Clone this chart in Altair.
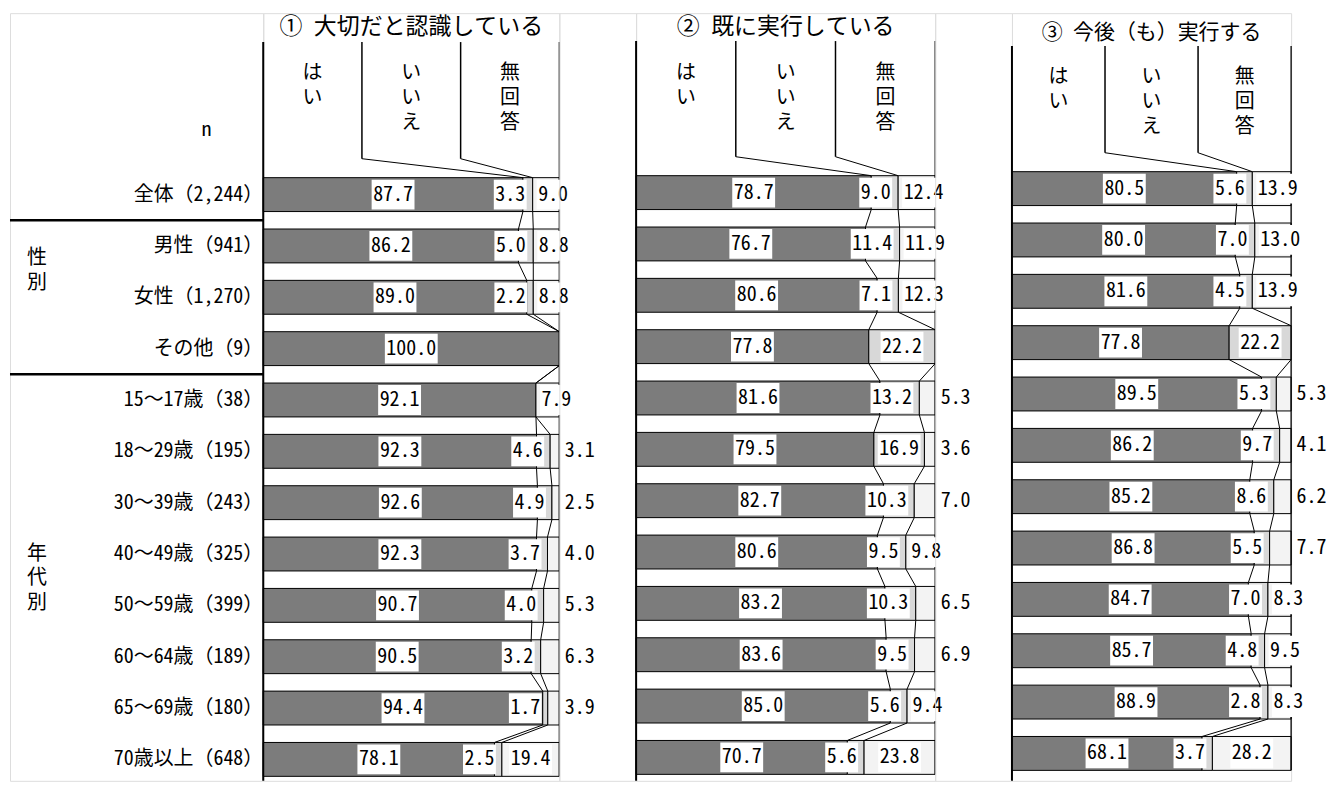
import altair as alt
import pandas as pd

# ---------------- data ----------------
row_labels = ["全体（2,244）", "男性（941）", "女性（1,270）", "その他（9）",
              "15～17歳（38）", "18～29歳（195）", "30～39歳（243）", "40～49歳（325）",
              "50～59歳（399）", "60～64歳（189）", "65～69歳（180）", "70歳以上（648）"]
segments = ["はい", "いいえ", "無回答"]
col_headers = ["は\nい", "い\nい\nえ", "無\n回\n答"]
titles = ["① 大切だと認識している", "② 既に実行している", "③ 今後（も）実行する"]
group_labels = ["性\n別", "年\n代\n別"]

p1_yes = [87.7, 86.2, 89.0, 100.0, 92.1, 92.3, 92.6, 92.3, 90.7, 90.5, 94.4, 78.1]
p1_no = [3.3, 5.0, 2.2, 0.0, 0.0, 4.6, 4.9, 3.7, 4.0, 3.2, 1.7, 2.5]
p1_na = [9.0, 8.8, 8.8, 0.0, 7.9, 3.1, 2.5, 4.0, 5.3, 6.3, 3.9, 19.4]

p2_yes = [78.7, 76.7, 80.6, 77.8, 81.6, 79.5, 82.7, 80.6, 83.2, 83.6, 85.0, 70.7]
p2_no = [9.0, 11.4, 7.1, 22.2, 13.2, 16.9, 10.3, 9.5, 10.3, 9.5, 5.6, 5.6]
p2_na = [12.4, 11.9, 12.3, 0.0, 5.3, 3.6, 7.0, 9.8, 6.5, 6.9, 9.4, 23.8]

p3_yes = [80.5, 80.0, 81.6, 77.8, 89.5, 86.2, 85.2, 86.8, 84.7, 85.7, 88.9, 68.1]
p3_no = [5.6, 7.0, 4.5, 22.2, 5.3, 9.7, 8.6, 5.5, 7.0, 4.8, 2.8, 3.7]
p3_na = [13.9, 13.0, 13.9, 0.0, 5.3, 4.1, 6.2, 7.7, 8.3, 9.5, 8.3, 28.2]

# ---------------- layout constants ----------------
FONT = "Noto Sans Mono CJK JP, Noto Sans CJK JP, sans-serif"
ROW_PX = 51.5      # pixels per row
PLOT_H = 770
TOP = 8            # page y of plot top
BH = 0.33          # bar half-height (rows)
BOX_H = 0.29       # label box half-height (rows)
FILL = {"はい": "#7c7c7c", "いいえ": "#d8d8d8", "無回答": "#f3f3f3"}


def yscale_for(r0):
    d0 = (TOP - r0) / ROW_PX
    d1 = d0 + PLOT_H / ROW_PX
    return alt.Scale(domain=[d0, d1], reverse=True, nice=False, zero=False), d1


def panel(title, yes, no, na, W, r0, head_top, sep_bot, title_y, col_y, title_size):
    ppu = W / 100.0
    py = lambda px: (px - r0) / ROW_PX
    ys, dmax = yscale_for(r0)
    xs = alt.Scale(domain=[0, 100], nice=False, zero=False)

    bars, labs, cums = [], [], []
    for i, (a, b, c) in enumerate(zip(yes, no, na)):
        tot = a + b + c
        c1 = a / tot * 100
        c2 = (a + b) / tot * 100
        cums.append((c1, c2))
        for seg, s, e, v in [("はい", 0, c1, a), ("いいえ", c1, c2, b), ("無回答", c2, 100, c)]:
            if v > 0:
                bars.append(dict(seg=seg, x0=s, x1=e, y0=i - BH, y1=i + BH))

        def add(v, cx):
            t = f"{v:.1f}"
            hw = (len(t) * 10 + 3) / 2 / ppu
            labs.append(dict(t=t, cx=cx, bx0=cx - hw, bx1=cx + hw, y=i,
                             by0=i - BOX_H, by1=i + BOX_H))

        add(a, c1 / 2)
        if b > 0:
            w = len(f"{b:.1f}") * 10 + 3
            if (c2 - c1) * ppu >= w + 2:
                add(b, (c1 + c2) / 2)
            else:
                add(b, c2 - (6 + w / 2) / ppu)
        if c > 0:
            w = len(f"{c:.1f}") * 10 + 3
            seg_px = (100 - c2) * ppu
            if seg_px >= w + 2:
                add(c, (c2 + 100) / 2)
            elif seg_px >= 22:
                add(c, c2 + (4 + w / 2) / ppu)
            else:
                add(c, 100 + (4 + w / 2) / ppu)

    n = len(yes)
    lines = []
    for i in range(n - 1):
        for k in range(2):
            lines.append(dict(x=cums[i][k], x2=cums[i + 1][k], y=i + BH, y2=i + 1 - BH, w=1.0))
    ht, sb = py(head_top), py(sep_bot)
    lines.append(dict(x=0, x2=0, y=ht, y2=dmax, w=2.0))
    lines.append(dict(x=100, x2=100, y=ht, y2=n - 1 + BH, w=1.3))
    for k, xs_ in enumerate([100 / 3, 200 / 3]):
        lines.append(dict(x=xs_, x2=xs_, y=ht, y2=sb, w=1.5))
        lines.append(dict(x=xs_, x2=cums[0][k], y=sb, y2=-BH, w=1.0))

    bdf = pd.DataFrame(bars)
    ldf = pd.DataFrame(labs)
    rdf = pd.DataFrame(lines)
    hdf = pd.DataFrame(dict(t=col_headers, x=[100 / 6, 50, 500 / 6], y=[py(col_y)] * 3))
    tdf = pd.DataFrame(dict(t=[title], x=[50], y=[py(title_y)]))

    X = lambda f: alt.X(f, type="quantitative", scale=xs, axis=None)
    Y = lambda f: alt.Y(f, type="quantitative", scale=ys, axis=None)

    bar_l = alt.Chart(bdf).mark_rect(stroke="black", strokeWidth=1).encode(
        x=X("x0"), x2="x1", y=Y("y0"), y2="y1",
        fill=alt.Fill("seg:N", scale=alt.Scale(domain=segments, range=[FILL[s] for s in segments]), legend=None))
    rule_l = alt.Chart(rdf).mark_rule(color="black").encode(
        x=X("x"), x2="x2", y=Y("y"), y2="y2", strokeWidth=alt.StrokeWidth("w:Q", scale=None))
    box_l = alt.Chart(ldf).mark_rect(fill="white", strokeWidth=0).encode(
        x=X("bx0"), x2="bx1", y=Y("by0"), y2="by1")
    txt_l = alt.Chart(ldf).mark_text(font=FONT, fontSize=20, color="black", baseline="middle").encode(
        x=X("cx"), y=Y("y"), text="t:N")
    hdr_l = alt.Chart(hdf).mark_text(font=FONT, fontSize=20, color="black", baseline="top",
                                      lineBreak="\n", lineHeight=25).encode(
        x=X("x"), y=Y("y"), text="t:N")
    ttl_l = alt.Chart(tdf).mark_text(font=FONT, fontSize=title_size, color="black", baseline="middle").encode(
        x=X("x"), y=Y("y"), text="t:N")
    return alt.layer(bar_l, rule_l, box_l, txt_l, hdr_l, ttl_l).properties(width=W, height=PLOT_H)


# ---------------- label panel ----------------
R0 = 190
lpy = lambda px: (px - R0) / ROW_PX
ys_l, _ = yscale_for(R0)
rl_df = pd.DataFrame(dict(t=row_labels, y=list(range(len(row_labels)))))
grp_df = pd.DataFrame(dict(t=group_labels, y=[lpy(254), lpy(550)]))
sep_df = pd.DataFrame(dict(y=[0.5, 3.5]))
n_df = pd.DataFrame(dict(t=["n"], y=[lpy(125)]))

YL = lambda f: alt.Y(f, type="quantitative", scale=ys_l, axis=None)
row_txt = alt.Chart(rl_df).mark_text(font=FONT, fontSize=20, align="right", baseline="middle",
                                     color="black").encode(x=alt.value(254), y=YL("y"), text="t:N")
grp_txt = alt.Chart(grp_df).mark_text(font=FONT, fontSize=20, align="center", baseline="middle",
                                      lineBreak="\n", lineHeight=25, color="black").encode(
    x=alt.value(27), y=YL("y"), text="t:N")
sep_rule = alt.Chart(sep_df).mark_rule(color="black", strokeWidth=2.5).encode(
    x=alt.value(0), x2=alt.value(254), y=YL("y"))
n_txt = alt.Chart(n_df).mark_text(font=FONT, fontSize=20, align="center", baseline="middle",
                                  color="black").encode(x=alt.value(197), y=YL("y"), text="t:N")
label_panel = alt.layer(row_txt, grp_txt, sep_rule, n_txt).properties(width=254, height=PLOT_H)


def spacer(w):
    return alt.Chart(pd.DataFrame(dict(a=[0]))).mark_point(opacity=0).encode(
        x=alt.value(0), y=alt.value(0)).properties(width=w, height=PLOT_H)


p1 = panel(titles[0], p1_yes, p1_no, p1_na, W=297, r0=190, head_top=37, sep_bot=154,
           title_y=22, col_y=58, title_size=23)
p2 = panel(titles[1], p2_yes, p2_no, p2_na, W=300, r0=188, head_top=36, sep_bot=152,
           title_y=21.5, col_y=58, title_size=23)
p3 = panel(titles[2], p3_yes, p3_no, p3_na, W=280, r0=184, head_top=41, sep_bot=148,
           title_y=28, col_y=62, title_size=21)

chart = alt.hconcat(label_panel, p1, spacer(77), p2, spacer(77), p3,
                    spacing=0, bounds="flush").resolve_scale(x="independent", y="independent").properties(
    padding=0, background="white").configure_view(stroke="transparent", strokeWidth=0).configure(font=FONT)

chart.save("out.html", embed_options={"renderer": "svg", "actions": False})
